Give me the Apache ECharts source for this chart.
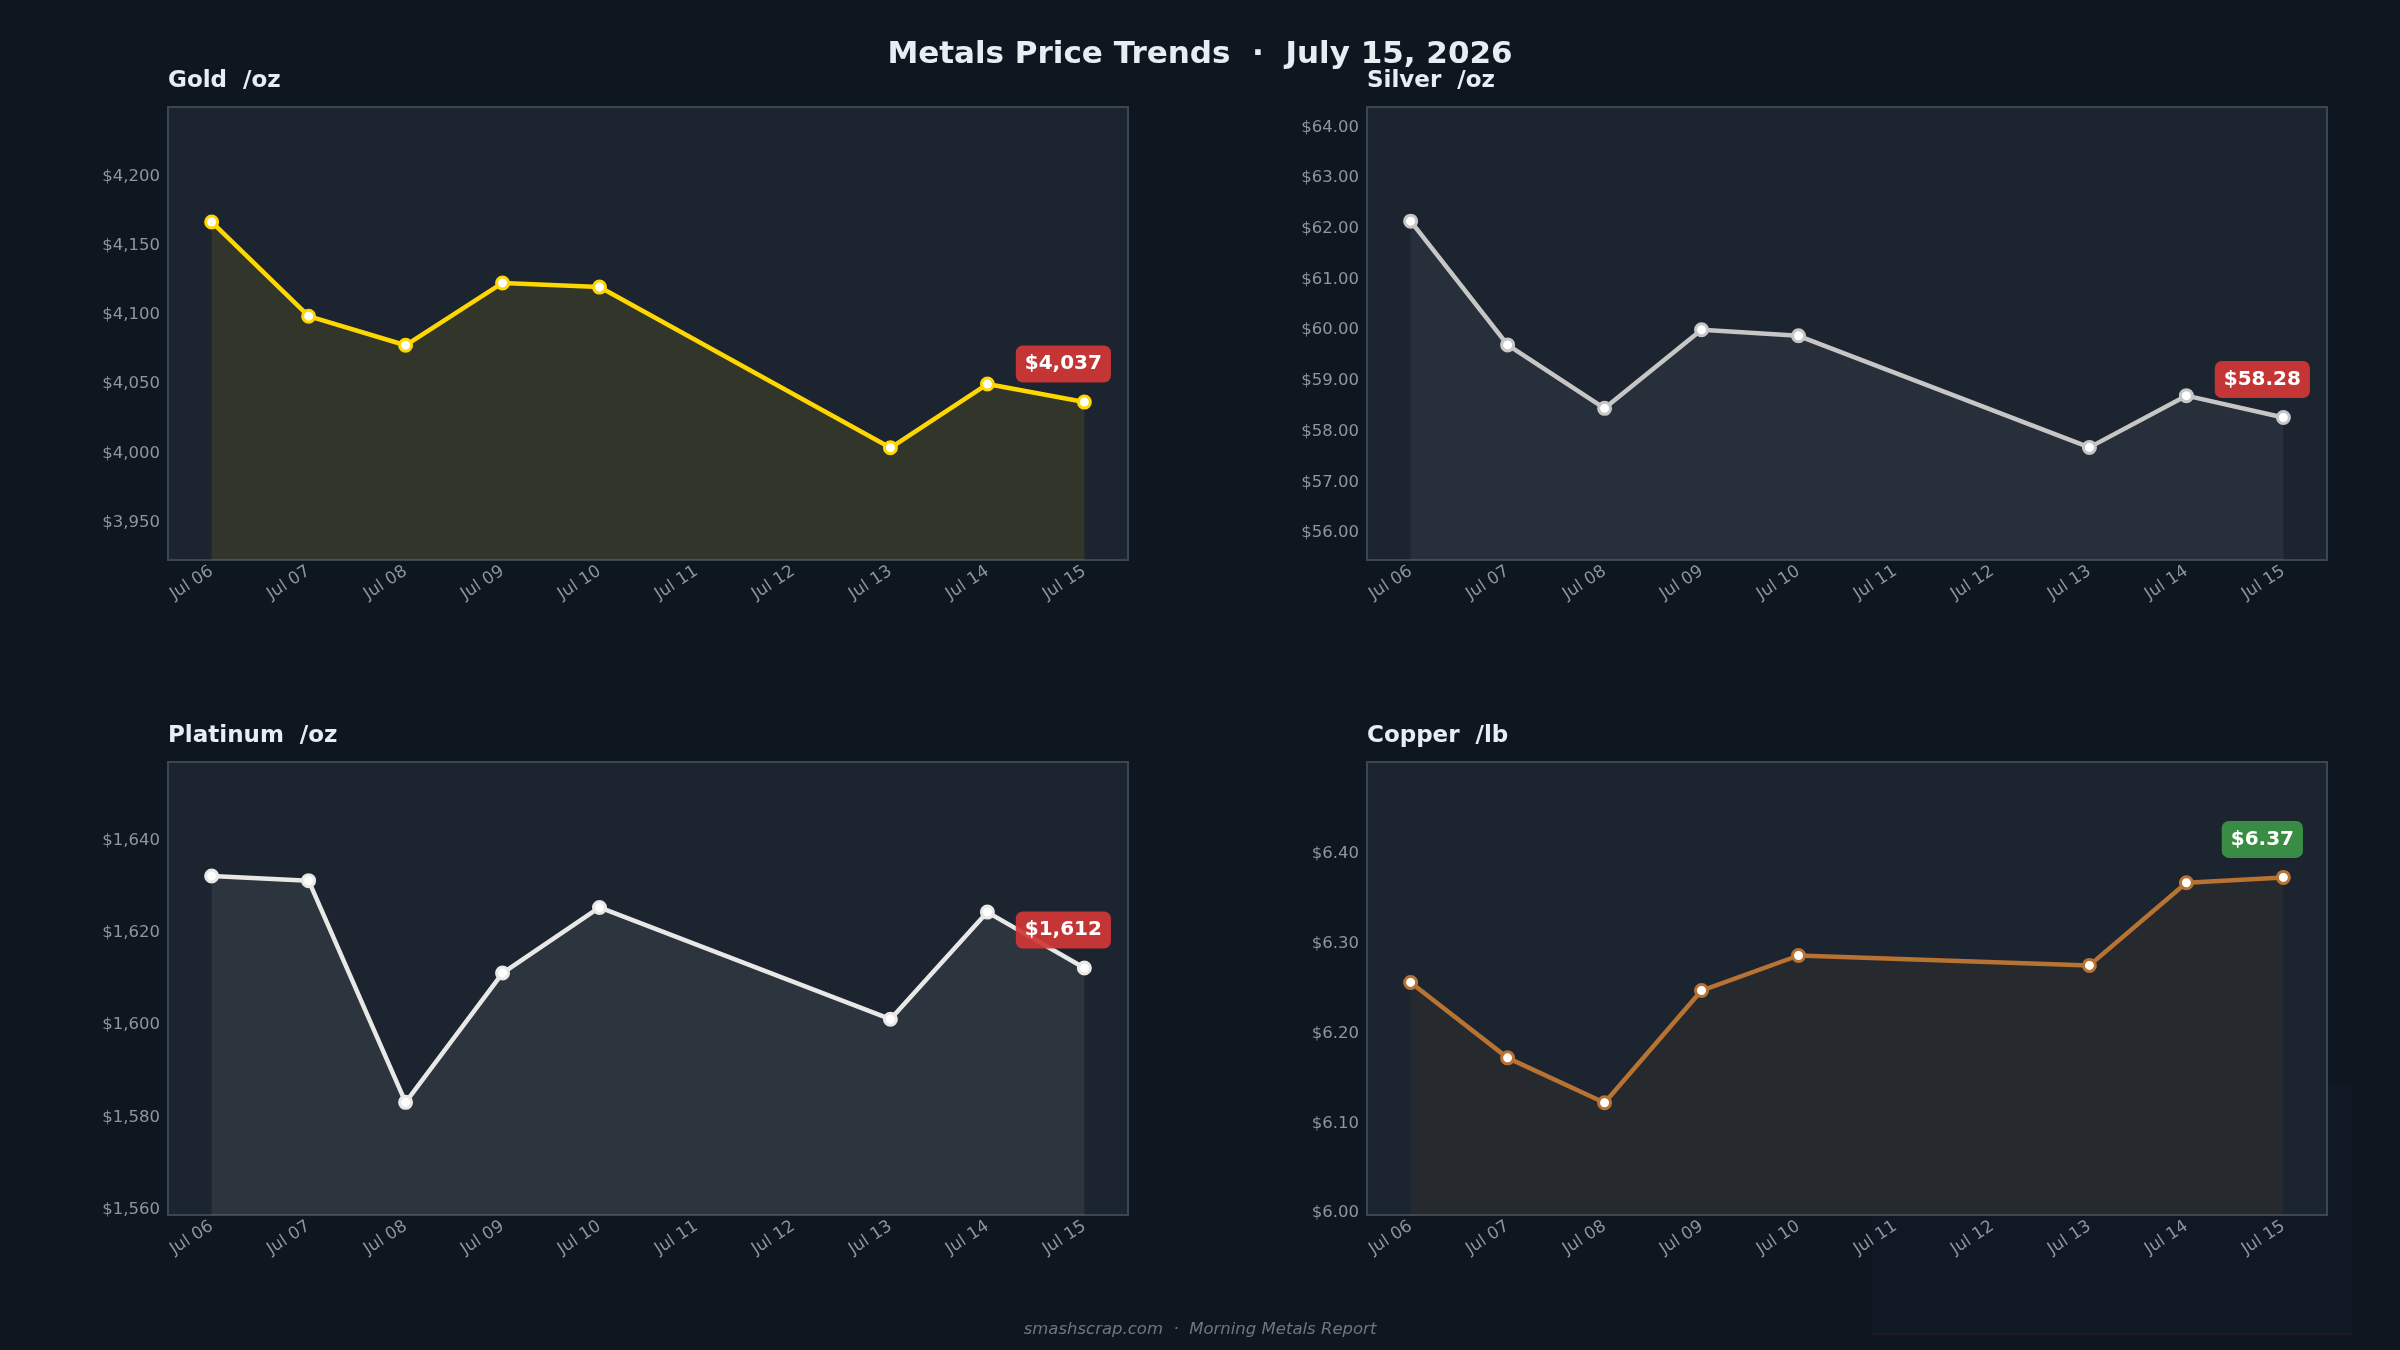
<!DOCTYPE html>
<html>
<head>
<meta charset="utf-8">
<title>Metals Price Trends</title>
<script src="https://cdn.jsdelivr.net/npm/echarts@6/dist/echarts.min.js"></script>
<style>
  html, body { margin: 0; padding: 0; background: #0e1720; }
  #chart { width: 2400px; height: 1350px; }
</style>
</head>
<body>
<div id="chart"></div>
<script>
// trading days (weekend Jul 11-12 has no data)
const dates = ['2026-07-06', '2026-07-07', '2026-07-08', '2026-07-09', '2026-07-10', '2026-07-13', '2026-07-14', '2026-07-15'];
const tickDays = ['2026-07-06', '2026-07-07', '2026-07-08', '2026-07-09', '2026-07-10', '2026-07-11', '2026-07-12', '2026-07-13', '2026-07-14', '2026-07-15'];

const goldPrices = [4167, 4099, 4078, 4123, 4120, 4004, 4050, 4037];
const silverPrices = [62.15, 59.71, 58.46, 60.01, 59.89, 57.69, 58.71, 58.28];
const platinumPrices = [1632.3, 1631.3, 1583.3, 1611.3, 1625.5, 1601.3, 1624.5, 1612.4];
const copperPrices = [6.257, 6.173, 6.123, 6.248, 6.287, 6.276, 6.368, 6.374];

const goldTicks = [3950, 4000, 4050, 4100, 4150, 4200];
const silverTicks = [56, 57, 58, 59, 60, 61, 62, 63, 64];
const platinumTicks = [1560, 1580, 1600, 1620, 1640];
const copperTicks = [6.0, 6.1, 6.2, 6.3, 6.4];

const MONTHS = ['Jan','Feb','Mar','Apr','May','Jun','Jul','Aug','Sep','Oct','Nov','Dec'];
const DAY = 86400000;
const FONT = 'DejaVu Sans';

function ts(s) {
  const p = s.split('-').map(Number);
  return new Date(p[0], p[1] - 1, p[2]).getTime();
}
function fmtDay(v) {
  const d = new Date(v);
  return MONTHS[d.getMonth()] + ' ' + String(d.getDate()).padStart(2, '0');
}
const fmtInt = v => '$' + Math.round(v).toLocaleString('en-US');
const fmt2 = v => '$' + v.toFixed(2);

// 5% padding on either side of the date range, like the source plot
const xMin = ts(dates[0]) - 0.45 * DAY;
const xMax = ts(dates[dates.length - 1]) + 0.45 * DAY;

const panels = [
  { name: 'Gold  /oz', prices: goldPrices, ticks: goldTicks, min: 3923, max: 4250, fmt: fmtInt,
    color: '#ffd700', area: 'rgba(255,215,0,0.14)', left: 168, top: 107 },
  { name: 'Silver  /oz', prices: silverPrices, ticks: silverTicks, min: 55.47, max: 64.4, fmt: fmt2,
    color: '#c6c6c6', area: 'rgba(192,192,192,0.11)', left: 1367, top: 107 },
  { name: 'Platinum  /oz', prices: platinumPrices, ticks: platinumTicks, min: 1558.9, max: 1657, fmt: fmtInt,
    color: '#e8e8e6', area: 'rgba(229,228,226,0.12)', left: 168, top: 762 },
  { name: 'Copper  /lb', prices: copperPrices, ticks: copperTicks, min: 5.998, max: 6.5025, fmt: fmt2,
    color: '#b87333', area: 'rgba(184,115,51,0.11)', left: 1367, top: 762 }
];

const grids = [], xAxes = [], yAxes = [], series = [];
const titles = [{
  text: 'Metals Price Trends  \u00b7  July 15, 2026',
  left: 'center', top: 39, padding: 0,
  textStyle: { color: '#e6edf3', fontSize: 31, fontWeight: 'bold', fontFamily: FONT }
}];

panels.forEach((p, i) => {
  grids.push({
    left: p.left, top: p.top, width: 960, height: 453,
    show: true, backgroundColor: '#1b242f', borderColor: '#3a4653', borderWidth: 2
  });
  titles.push({
    text: p.name, left: p.left, top: p.top - 37, padding: 0,
    textStyle: { color: '#e6edf3', fontSize: 23, fontWeight: 'bold', fontFamily: FONT }
  });
  xAxes.push({
    type: 'value', gridIndex: i, min: xMin, max: xMax,
    axisLine: { show: false },
    axisTick: { show: false },
    splitLine: { show: false },
    axisLabel: {
      customValues: tickDays.map(ts),
      formatter: v => fmtDay(v),
      rotate: 33, margin: 10, color: '#8b949e', fontSize: 17, fontFamily: FONT
    }
  });
  yAxes.push({
    type: 'value', gridIndex: i, min: p.min, max: p.max,
    axisLine: { show: false },
    axisTick: { show: false },
    splitLine: { show: false },
    axisLabel: {
      customValues: p.ticks,
      formatter: v => p.fmt(v),
      margin: 8, color: '#8d96a0', fontSize: 16.5, fontFamily: FONT
    }
  });
  const n = p.prices.length;
  const up = p.prices[n - 1] >= p.prices[n - 2];
  const data = p.prices.map((v, k) => {
    const item = { value: [ts(dates[k]), v] };
    if (k === n - 1) {
      item.label = {
        show: true, position: 'inside', offset: [-21, -38],
        formatter: () => p.fmt(v),
        color: '#ffffff', fontSize: 20, fontWeight: 'bold', fontFamily: FONT,
        backgroundColor: up ? 'rgba(58,146,68,0.95)' : 'rgba(209,55,55,0.93)',
        borderRadius: 7, padding: [9, 9, 8, 9]
      };
    }
    return item;
  });
  series.push({
    type: 'line', xAxisIndex: i, yAxisIndex: i, data: data,
    symbol: 'circle', symbolSize: 12,
    lineStyle: { color: p.color, width: 4.5 },
    itemStyle: { color: '#ffffff', borderColor: p.color, borderWidth: 3 },
    areaStyle: { color: p.area, origin: 'start' },
    label: { show: false },
    emphasis: { disabled: true },
    animation: false, z: 3
  });
});

const chart = echarts.init(document.getElementById('chart'), null, { renderer: 'canvas' });
chart.setOption({
  backgroundColor: '#0e1720',
  animation: false,
  title: titles,
  grid: grids,
  xAxis: xAxes,
  yAxis: yAxes,
  series: series,
  graphic: [
    {
      type: 'rect', z: -1, silent: true,
      shape: { x: 1872, y: 1084, width: 480, height: 250 },
      style: { fill: 'rgba(22,36,58,0.18)' }
    },
    {
      type: 'rect', z: -1, silent: true,
      shape: { x: 1872, y: 1333, width: 480, height: 2 },
      style: { fill: 'rgba(120,40,40,0.18)' }
    },
    {
      type: 'text', left: 'center', top: 1321,
      style: {
        text: 'smashscrap.com  \u00b7  Morning Metals Report',
        fill: '#6e7681', fontSize: 16.5, fontStyle: 'italic', fontFamily: FONT
      }
    }
  ]
});
</script>
</body>
</html>
